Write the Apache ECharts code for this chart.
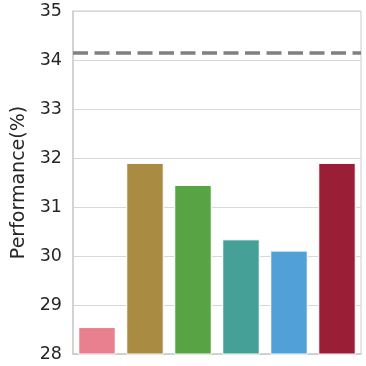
<!DOCTYPE html>
<html>
<head>
<meta charset="utf-8">
<script src="https://cdn.jsdelivr.net/npm/echarts@6/dist/echarts.min.js"></script>
<style>html,body{margin:0;padding:0;background:#fff;}#c{width:366px;height:366px;}</style>
</head>
<body>
<div id="c"></div>
<script>
const categories = ['A', 'B', 'C', 'D', 'E', 'F'];
const values = [28.55, 31.90, 31.45, 30.34, 30.11, 31.90];
const barColors = ['#e8808f', '#a98c42', '#58a343', '#45a098', '#52a0d8', '#9a1f36'];
const referenceValue = 34.15;
const yMin = 28, yMax = 35, yStep = 1;

const chart = echarts.init(document.getElementById('c'), null, {renderer: 'canvas'});
chart.setOption({
  animation: false,
  backgroundColor: '#ffffff',
  grid: {left: 73, right: 5, top: 11, bottom: 12, containLabel: false,
         show: true, borderColor: '#cccccc', borderWidth: 1},
  xAxis: {
    type: 'category', data: categories,
    axisLine: {show: true, lineStyle: {color: '#cccccc', width: 1.5}},
    axisTick: {show: false}, axisLabel: {show: false}, splitLine: {show: false}
  },
  yAxis: {
    type: 'value', min: yMin, max: yMax, interval: yStep,
    name: 'Performance(%)', nameLocation: 'middle', nameGap: 38,
    nameTextStyle: {fontFamily: 'DejaVu Sans', fontSize: 19, color: '#262626'},
    axisLine: {show: true, lineStyle: {color: '#cccccc', width: 1.5}},
    axisTick: {show: false},
    axisLabel: {fontFamily: 'DejaVu Sans', fontSize: 17.5, color: '#262626', margin: 11},
    splitLine: {show: true, lineStyle: {color: '#d9d9d9', width: 1}}
  },
  series: [{
    type: 'bar',
    data: values.map((v, i) => ({value: v, itemStyle: {color: barColors[i]}})),
    barCategoryGap: '22%',
    itemStyle: {borderColor: '#ffffff', borderWidth: 1},
    markLine: {
      silent: true, symbol: 'none', label: {show: false},
      lineStyle: {color: '#808080', width: 3.5, type: [15, 6.5]},
      data: [{yAxis: referenceValue}]
    }
  }]
});
</script>
</body>
</html>
